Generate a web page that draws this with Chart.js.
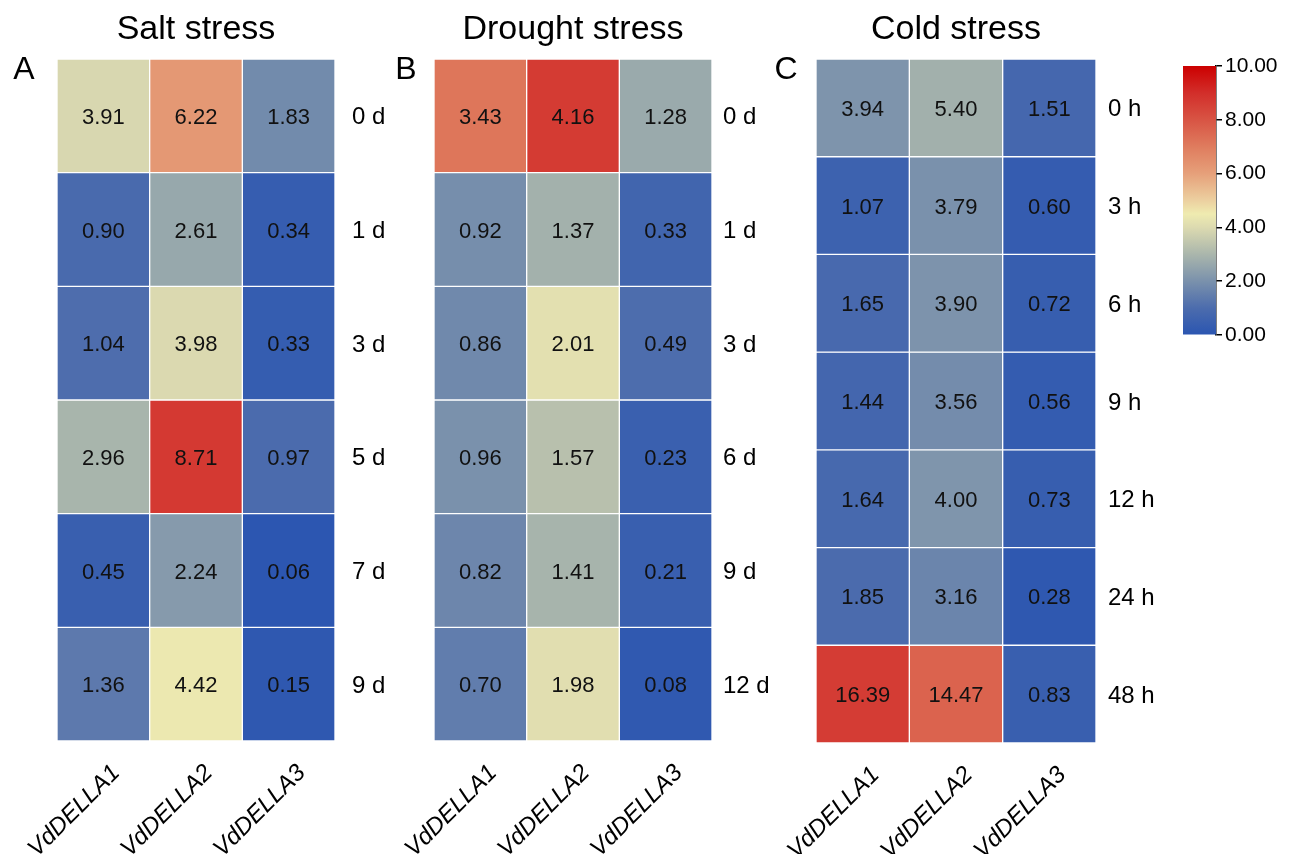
<!DOCTYPE html>
<html>
<head>
<meta charset="utf-8">
<script src="https://cdn.jsdelivr.net/npm/chart.js@4.4.1/dist/chart.umd.min.js"></script>
<style>
    body { margin: 0; background: #fff; }
    #page { position: relative; width: 1289px; height: 854px; overflow: hidden; }
    .box { position: absolute; top: 0; height: 854px; }
</style>
</head>
<body>
<div id="page">
    <div class="box" style="left:0;width:395px"><canvas id="saltChart"></canvas></div>
    <div class="box" style="left:395px;width:380px"><canvas id="droughtChart"></canvas></div>
    <div class="box" style="left:775px;width:390px"><canvas id="coldChart"></canvas></div>
    <div class="box" style="left:1165px;width:124px"><canvas id="scaleChart"></canvas></div>
</div>
<script>
var genes = ['VdDELLA1', 'VdDELLA2', 'VdDELLA3'];

var saltDays = ['0 d', '1 d', '3 d', '5 d', '7 d', '9 d'];
var saltValues = [
    [3.91, 6.22, 1.83],
    [0.90, 2.61, 0.34],
    [1.04, 3.98, 0.33],
    [2.96, 8.71, 0.97],
    [0.45, 2.24, 0.06],
    [1.36, 4.42, 0.15]
];

var droughtDays = ['0 d', '1 d', '3 d', '6 d', '9 d', '12 d'];
var droughtValues = [
    [3.43, 4.16, 1.28],
    [0.92, 1.37, 0.33],
    [0.86, 2.01, 0.49],
    [0.96, 1.57, 0.23],
    [0.82, 1.41, 0.21],
    [0.70, 1.98, 0.08]
];

var coldHours = ['0 h', '3 h', '6 h', '9 h', '12 h', '24 h', '48 h'];
var coldValues = [
    [3.94, 5.40, 1.51],
    [1.07, 3.79, 0.60],
    [1.65, 3.90, 0.72],
    [1.44, 3.56, 0.56],
    [1.64, 4.00, 0.73],
    [1.85, 3.16, 0.28],
    [16.39, 14.47, 0.83]
];

var scaleTicks = [0, 2, 4, 6, 8, 10];

// blue -> grey -> pale yellow -> salmon -> red
var colorStops = [
    [0.00, [42, 85, 177]],
    [0.10, [76, 108, 173]],
    [0.20, [122, 145, 172]],
    [0.30, [170, 182, 172]],
    [0.40, [220, 218, 176]],
    [0.45, [239, 235, 176]],
    [0.50, [236, 208, 160]],
    [0.60, [230, 160, 122]],
    [0.70, [223, 124, 94]],
    [0.80, [216, 84, 68]],
    [0.90, [210, 46, 42]],
    [1.00, [204, 0, 0]]
];

function colorAt(t) {
    t = Math.max(0, Math.min(1, t));
    for (var i = 1; i < colorStops.length; i++) {
        if (t <= colorStops[i][0]) {
            var a = colorStops[i - 1], b = colorStops[i];
            var f = (t - a[0]) / (b[0] - a[0]);
            var c = a[1].map(function (v, k) { return Math.round(v + (b[1][k] - v) * f); });
            return 'rgb(' + c.join(',') + ')';
        }
    }
    return 'rgb(204,0,0)';
}

Chart.defaults.font.family = "'Liberation Sans', Arial, sans-serif";
Chart.defaults.color = '#000';

var cellText = {
    id: 'cellText',
    afterDatasetsDraw: function (chart, args, opts) {
        var ctx = chart.ctx;
        ctx.save();
        ctx.font = '22px "Liberation Sans", Arial, sans-serif';
        ctx.fillStyle = '#111';
        ctx.textAlign = 'center';
        ctx.textBaseline = 'middle';
        chart.data.datasets.forEach(function (ds, i) {
            chart.getDatasetMeta(i).data.forEach(function (bar, j) {
                ctx.fillText(ds.values[j].toFixed(2), bar.x, (bar.y + bar.base) / 2 + 2);
            });
        });
        ctx.fillStyle = '#000';
        ctx.font = '32px "Liberation Sans", Arial, sans-serif';
        ctx.fillText(opts.letter, chart.chartArea.left - opts.letterGap, 70);
        ctx.restore();
    }
};

function CreateHeatmap(canvasId, panel) {
    var ctx = document.getElementById(canvasId).getContext('2d');
    return new Chart(ctx, {
        type: 'bar',
        data: {
            labels: genes,
            datasets: panel.values.map(function (row, i) {
                return {
                    label: panel.rows[i],
                    values: row,
                    data: row.map(function () { return 1; }),
                    backgroundColor: row.map(function (v) { return colorAt(v / panel.vmax); }),
                    borderColor: 'rgba(255,255,255,0.95)',
                    borderWidth: 1,
                    borderSkipped: false,
                    barPercentage: 1,
                    categoryPercentage: 1
                };
            })
        },
        options: {
            responsive: true,
            maintainAspectRatio: false,
            animation: false,
            layout: { padding: { left: panel.left, top: 0, right: 0, bottom: 0 } },
            plugins: {
                legend: { display: false },
                tooltip: { enabled: false },
                title: {
                    display: true,
                    text: panel.title,
                    fullSize: false,
                    font: { size: 34, weight: 'normal', lineHeight: 1.2 },
                    color: '#000',
                    padding: { top: 9, bottom: 9.2 }
                },
                cellText: { letter: panel.letter, letterGap: panel.letterGap }
            },
            scales: {
                x: {
                    stacked: true,
                    grid: { display: false, drawTicks: false },
                    border: { display: false },
                    ticks: {
                        autoSkip: false,
                        maxRotation: 45,
                        minRotation: 45,
                        padding: 18,
                        labelOffset: 13,
                        font: { size: 24, style: 'italic' }
                    },
                    afterFit: function (scale) {
                        scale.height = panel.bottom;
                        scale.paddingLeft = 0;
                        scale.paddingRight = 0;
                    }
                },
                y: {
                    stacked: true,
                    position: 'right',
                    reverse: true,
                    min: 0,
                    max: panel.rows.length,
                    grid: { display: false, drawTicks: false },
                    border: { display: false },
                    afterBuildTicks: function (scale) {
                        scale.ticks = panel.rows.map(function (r, i) { return { value: i + 0.5 }; });
                    },
                    ticks: {
                        padding: panel.labelPad,
                        labelOffset: 2,
                        font: { size: 24 },
                        callback: function (v) { return panel.rows[Math.floor(v)]; }
                    },
                    afterFit: function (scale) {
                        scale.width = panel.axisWidth;
                        scale.paddingTop = 0;
                        scale.paddingBottom = 0;
                    }
                }
            }
        },
        plugins: [cellText]
    });
}

CreateHeatmap('saltChart', {
    title: 'Salt stress', letter: 'A', rows: saltDays, values: saltValues,
    vmax: 10, left: 57, axisWidth: 60, bottom: 113, labelPad: 17, letterGap: 33
});
CreateHeatmap('droughtChart', {
    title: 'Drought stress', letter: 'B', rows: droughtDays, values: droughtValues,
    vmax: 4.8, left: 39, axisWidth: 63, bottom: 113, labelPad: 11, letterGap: 28
});
CreateHeatmap('coldChart', {
    title: 'Cold stress', letter: 'C', rows: coldHours, values: coldValues,
    vmax: 19, left: 41, axisWidth: 69, bottom: 111, labelPad: 12, letterGap: 30
});

// colour bar
new Chart(document.getElementById('scaleChart').getContext('2d'), {
    type: 'bar',
    data: {
        labels: [''],
        datasets: [{
            data: [scaleTicks[scaleTicks.length - 1]],
            barPercentage: 1,
            categoryPercentage: 1,
            backgroundColor: function (c) {
                var area = c.chart.chartArea;
                if (!area) return null;
                var g = c.chart.ctx.createLinearGradient(0, area.bottom, 0, area.top);
                colorStops.forEach(function (s) { g.addColorStop(s[0], 'rgb(' + s[1].join(',') + ')'); });
                return g;
            }
        }]
    },
    options: {
        responsive: true,
        maintainAspectRatio: false,
        animation: false,
        layout: { padding: { left: 18, top: 66, right: 0, bottom: 519 } },
        plugins: { legend: { display: false }, tooltip: { enabled: false } },
        scales: {
            x: { display: false },
            y: {
                position: 'right',
                min: 0,
                max: 10,
                afterBuildTicks: function (scale) {
                    scale.ticks = scaleTicks.map(function (v) { return { value: v }; });
                },
                grid: { drawOnChartArea: false, drawTicks: true, tickLength: 6, color: '#000', lineWidth: 1.5 },
                border: { display: true, color: '#000', width: 1.5 },
                ticks: {
                    padding: 3,
                    font: { size: 21 },
                    callback: function (v) { return v.toFixed(2); }
                },
                afterFit: function (scale) {
                    scale.width = 73;
                    scale.paddingTop = 0;
                    scale.paddingBottom = 0;
                }
            }
        }
    }
});
</script>
</body>
</html>
